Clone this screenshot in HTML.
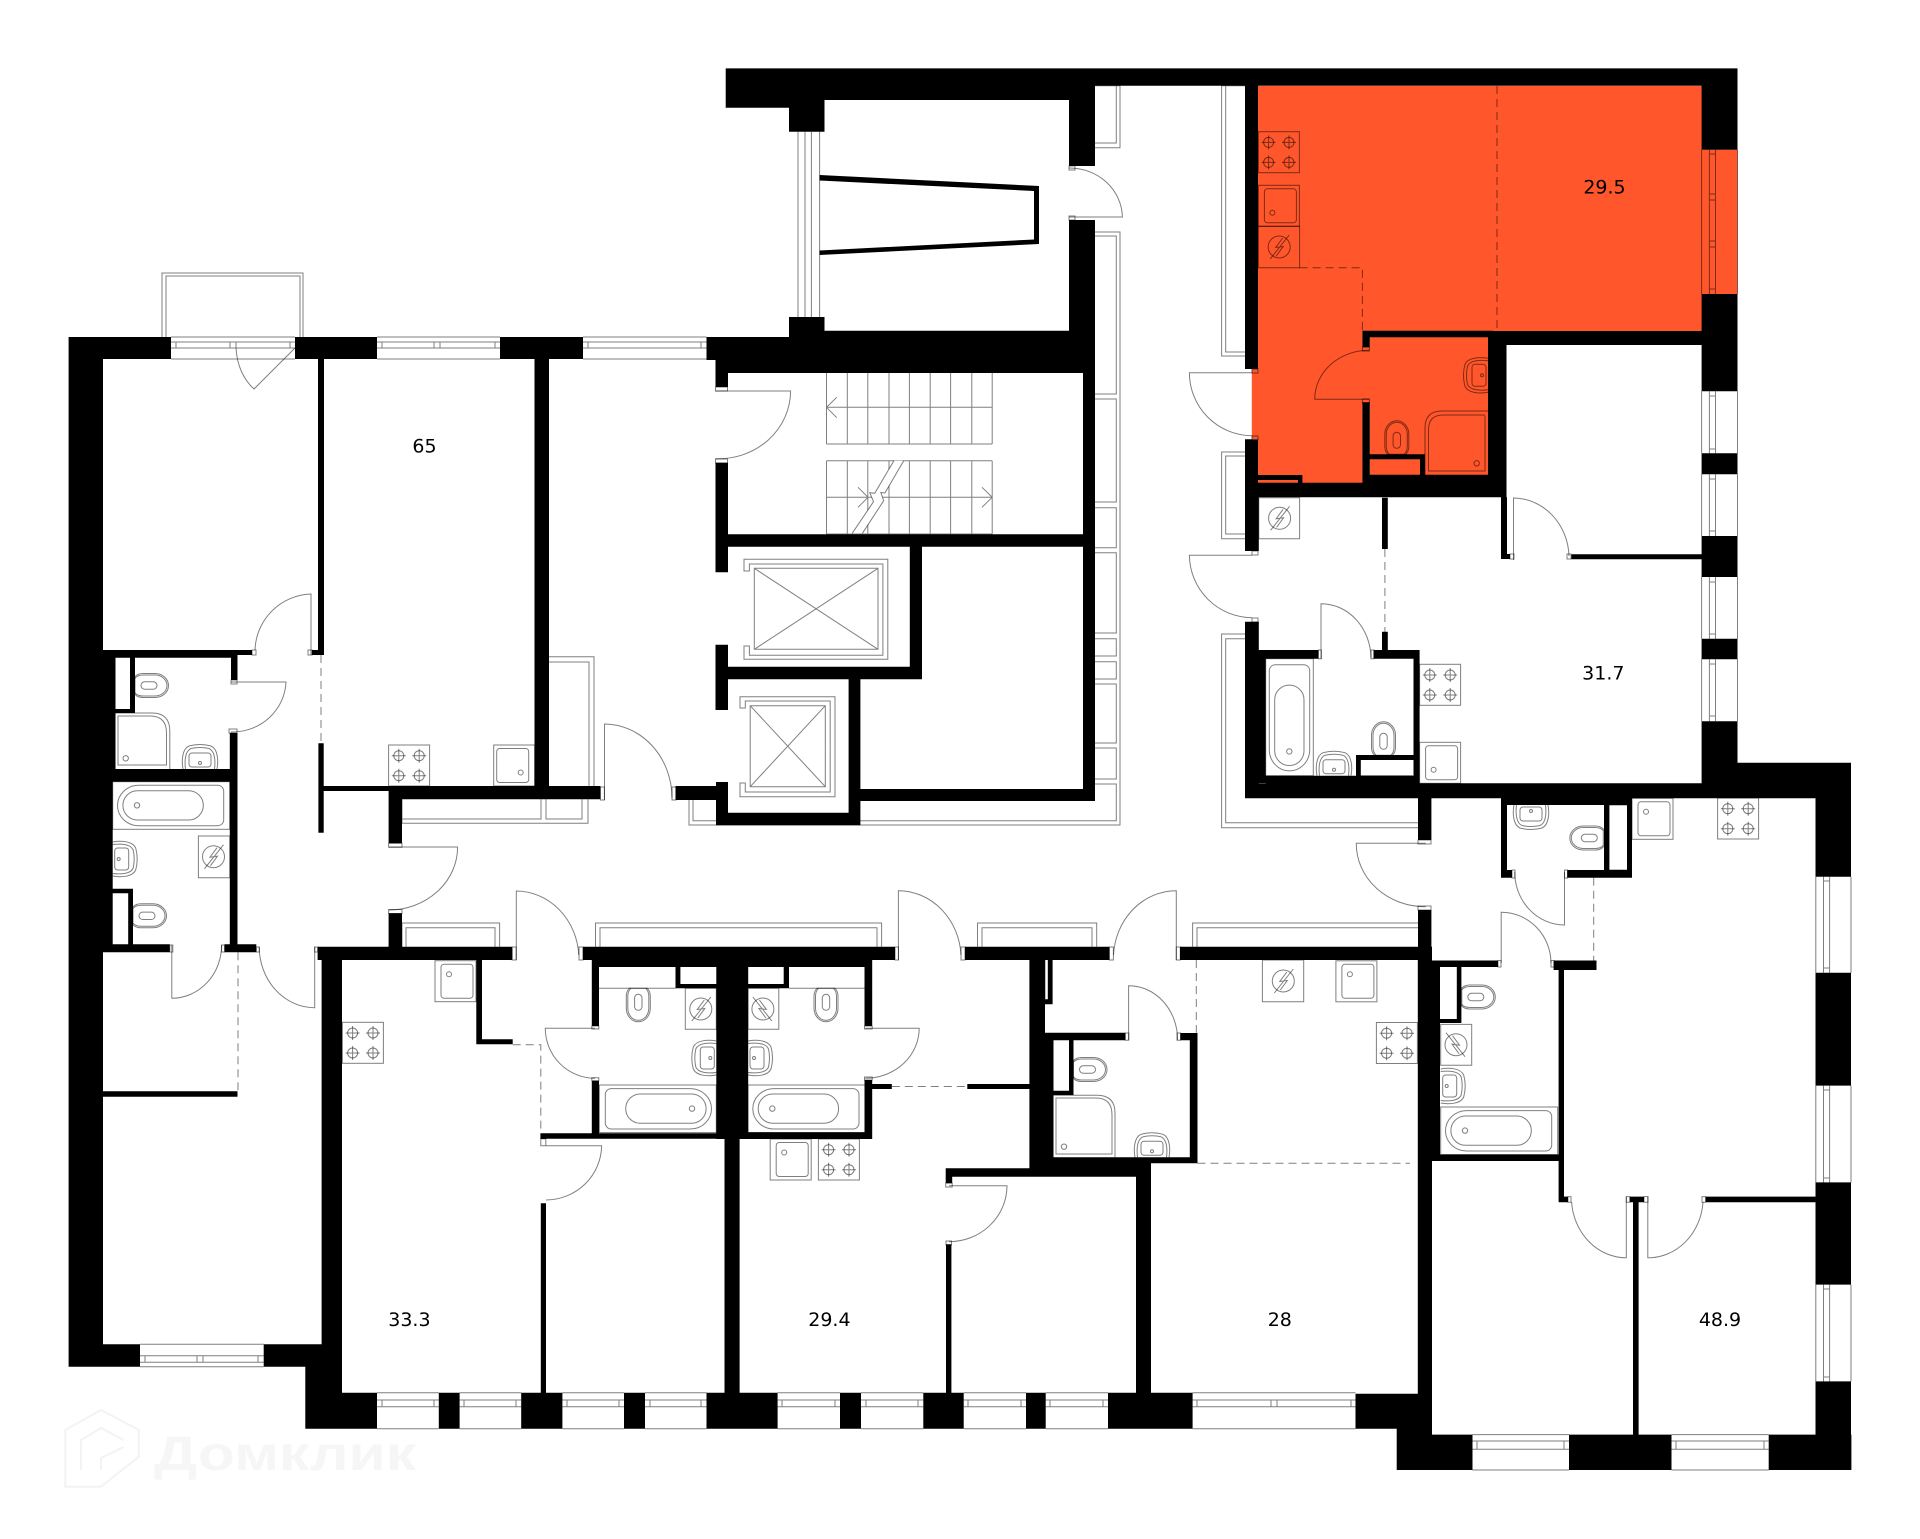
<!DOCTYPE html>
<html><head><meta charset="utf-8"><title>Floor plan</title>
<style>html,body{margin:0;padding:0;background:#fff}svg{display:block}
text{font-family:"DejaVu Sans","Liberation Sans",sans-serif;font-size:19px;fill:#000;text-anchor:middle}</style></head>
<body>
<svg xmlns="http://www.w3.org/2000/svg" width="1920" height="1539" viewBox="0 0 1920 1539">
<defs>
<g id="b"><circle r="5"/><path d="M-7 0H7M0-7V7"/></g>
<g id="stove"><rect width="41" height="41"/><use href="#b" x="10.2" y="10.7"/><use href="#b" x="30.6" y="10.7"/><use href="#b" x="10.2" y="30.7"/><use href="#b" x="30.6" y="30.7"/></g>
<g id="tray"><rect width="41" height="41"/><rect x="6" y="3.5" width="32" height="34" rx="3"/><circle cx="14" cy="27.5" r="2.5"/></g>
<g id="bol"><circle r="11"/><path d="M-9 12L10-12M3.5-9L-3.5 0.5L4-0.5L-3 9"/></g>
<g id="toilet"><path d="M-9 0Q-12-3-12-8V-20A12 13.5 0 0 1 12-20V-8Q12-3 9 0Z"/><path d="M-7.5 0Q-10.5-3-10.5-8V-20A10.5 12 0 0 1 10.5-20V-8Q10.5-3 7.5 0"/><rect x="-3.7" y="-22" width="7.4" height="16" rx="3.7"/></g>
<g id="basin"><path d="M-17 0C-18.5-8-18-20-11-23Q0-26 11-23C18-20 18.5-8 17 0"/><path d="M-14.5 0C-15.5-8-15-18-9-20.5Q0-22.5 9-20.5C15-18 15.5-8 14.5 0"/><rect x="-11" y="-16" width="22" height="14" rx="3"/><circle cy="-6" r="1.5"/></g>
<g id="tub"><rect width="117" height="47.6"/><path d="M26 3.6H105A6 6 0 0 1 111 9.6V38A6 6 0 0 1 105 44H26A21 20 0 0 1 26 3.6Z"/><rect x="10.2" y="9" width="80.4" height="29.3" rx="14.6"/><circle cx="24.3" cy="23.6" r="2.7"/></g>
</defs>

<!-- orange unit -->
<g fill="#ff562b">
<rect x="1258" y="86" width="444" height="245"/><rect x="1258" y="331" width="104.4" height="152"/>
<rect x="1251.8" y="369" width="8" height="70"/><rect x="1362" y="347" width="8" height="56"/>
<rect x="1369.8" y="337" width="118.2" height="138"/><rect x="1701.6" y="149.7" width="35.9" height="144.3"/>
</g>

<!-- watermark -->
<g fill="none" stroke="#f3f3f3" stroke-width="2" stroke-linejoin="round">
<path d="M65.3 1486.7V1430L101 1410L138.8 1430V1456.7L101 1486.7Z"/>
<path d="M81 1470V1440L101 1428L123.7 1440M101 1470V1458L123.7 1447"/>
</g>
<text x="285" y="1470" style="font-family:'Liberation Sans',sans-serif;font-size:48px;font-weight:700;fill:#f6f6f6" textLength="262" lengthAdjust="spacingAndGlyphs">Домклик</text>

<!-- walls -->
<path fill="#000" d="
M68.6 337H103V1366.7H68.6Z M68.6 337H171V359H68.6Z M295 337H377V359H295Z M500 337H583V359H500Z
M318 359H324V655H318Z M312 650H324V655H312Z M534.5 359H549V799H534.5Z
M103 650H237.5V657.7H103Z M237 650H252V655H237Z M103 650H115.5V769H103Z M231 655H237.5V680H231Z
M130 657H135V713H130Z M115 709H135V713H115Z M103 769H237.5V781.7H103Z M103 781H112.7V952H103Z
M229.8 733H237.5V952H229.8Z M103 944.3H169.8V952.3H103Z M224.5 944.3H256.3V952.3H224.5Z
M128.2 888.7H133V944.3H128.2Z M112.7 888.7H133V893.3H112.7Z M103 1091.3H237.5V1096.7H103Z
M68.6 1344.3H140V1366.7H68.6Z M263.7 1344.3H342V1366.7H263.7Z
M318.4 743.3H323.7V832.7H318.4Z M323.7 786H388.6V791H323.7Z M388.6 786H600.4V799.3H388.6Z
M388.6 799H402V843.3H388.6Z M388.6 913.3H402V946.7H388.6Z M317.6 946.7H512.2V960H317.6Z
M321.6 960H342V1392.7H321.6Z M305.3 1366H342V1428.7H305.3Z M342 1392.7H377V1428.7H342Z
M438.8 1392.7H459.6V1428.7H438.8Z M521.2 1392.7H562.4V1428.7H521.2Z M624 1392.7H645V1428.7H624Z
M706.5 1392.7H777.6V1428.7H706.5Z M840 1392.7H861V1428.7H840Z M923.3 1392.7H963.7V1428.7H923.3Z
M1026 1392.7H1045.7V1428.7H1026Z M1108 1392.7H1192.6V1428.7H1108Z M1355.5 1393.7H1417.8V1428.7H1355.5Z
M1396.7 1393.7H1432V1470H1396.7Z M1396.7 1434.6H1472.5V1470H1396.7Z
M1417.8 946.7H1432V1435H1417.8Z M1432 960.5H1440V1161H1432Z
M582.9 946.7H895V960H582.9Z M965 946.7H1109.4V960H965Z M1180 946.7H1418V960H1180Z
M591.8 960H872.2V967H591.8Z M591.8 960H599V1026H591.8Z M591.8 1080.7H599V1133.3H591.8Z
M540.4 1133.3H748V1138.7H540.4Z M748 1132.3H872.2V1139H748Z M716.3 960H748.2V1139H716.3Z M724.5 1139H739.6V1393H724.5Z
M675.5 967H680.4V988.3H675.5Z M676 984H716.3V988.3H676Z M748 984H789V988.3H748Z M783.7 967H789V988.3H783.7Z
M864.5 960H872.2V1026H864.5Z M864.5 1080H872.2V1138.3H864.5Z M872 1084H891.8V1089H872Z M967.3 1084H1029.4V1089H967.3Z
M476.3 960H482V1044.3H476.3Z M476.3 1039.3H512.7V1044.3H476.3Z M540.4 1133.3H546V1139H540.4Z M540.8 1203.3H546V1392.7H540.8Z
M1029.4 960H1045V1176.7H1029.4Z M1045 1157.3H1197.5V1163.3H1045Z M1029.4 1163.3H1151V1176.7H1029.4Z
M945.7 1168.3H1029.4V1176.7H945.7Z M945.7 1176.7H952.2V1183.3H945.7Z M946 1244.3H951.4V1392.7H946Z M1136 1176.7H1151V1392.7H1136Z
M1045 1032.7H1125.3V1040.3H1045Z M1180.4 1033H1197.5V1040.3H1180.4Z M1189.8 1033H1197.5V1163.3H1189.8Z
M1069 1040H1073.5V1095H1069Z M1045 1090.7H1073.5V1095H1045Z M1047.8 960H1052.6V1004.3H1047.8Z M1045 999.3H1052.6V1004.3H1045Z M1045 1040H1053.5V1157.3H1045Z
M1432 960.5H1498V967H1432Z M1553.6 960.5H1596.5V970H1553.6Z M1558.6 967H1564V1202H1558.6Z M1440 1154.5H1558.6V1161H1440Z
M1456.8 964H1461.4V1023H1456.8Z M1440 1019H1461.4V1023H1440Z M1559 1196.6H1568V1202.3H1559Z
M1633 1196.6H1638.6V1434.6H1633Z M1629.8 1196.6H1644V1202.3H1629.8Z M1705.6 1196.6H1815.8V1202.3H1705.6Z
M1569 1434.6H1671.5V1470H1569Z M1768.7 1434.6H1851.4V1470H1768.7Z
M1815.5 762.7H1851V876.7H1815.5Z M1815.5 972.7H1851V1085.6H1815.5Z M1815.5 1182.4H1851V1284.6H1815.5Z M1815.5 1381.4H1851V1470H1815.5Z
M1245 783.3H1815.5V798.3H1245Z M1701.6 721.3H1737.5V783.3H1701.6Z M1737 762.7H1851V798.3H1737Z
M1245 85.7H1258V369H1245Z M1245 439.3H1258V497H1245Z M1245 482.7H1506.5V497.3H1245Z
M1245 497H1258.8V551H1245Z M1245 621.7H1258.8V798.3H1245Z M1258.8 650H1318.4V658.7H1258.8Z M1373.5 650H1419.6V658.7H1373.5Z
M1258.8 650H1265.7V783H1258.8Z M1382 631.7H1387.8V650H1382Z M1382 497.7H1387.8V549H1382Z M1413.5 650H1419.6V783.3H1413.5Z
M1356 755H1413.5V760H1356Z M1356 755H1360.8V775.7H1356Z M1265.7 775.7H1419.6V783.3H1265.7Z
M1258 475H1302.4V480H1258Z M1298 480H1302.4V483H1298Z
M1362.4 330.7H1493V337.3H1362.4Z M1362.4 337H1369.8V347.3H1362.4Z M1362.4 402.3H1369.8V483H1362.4Z
M1369.8 454.3H1425V459.3H1369.8Z M1420 454.3H1425V475H1420Z M1369.8 474.7H1488V483H1369.8Z M1488 331H1506.5V497.3H1488Z M1493 331H1702V345H1493Z
M1701.6 68.4H1737.5V149.7H1701.6Z M1701.6 294H1737.5V391.3H1701.6Z M1701.6 453.3H1737.5V474.3H1701.6Z M1701.6 536H1737.5V577H1701.6Z M1701.6 638.7H1737.5V659.3H1701.6Z
M1571.4 554.3H1701.6V559.3H1571.4Z M1501 497.3H1507V559H1501Z M1501 554H1510V559H1501Z
M725.7 68.4H1737.5V85.7H725.7Z M725.7 85.7H1095V100H725.7Z M725.7 100H789V107.7H725.7Z M789 100H824.5V131.7H789Z
M1069 85.7H1095V166H1069Z M1069 220H1095V373H1069Z M789 317H824.5V373H789Z M824.5 330.7H1095V373H824.5Z M706.5 337H789V360H706.5Z M715.5 360H1095V373H715.5Z
M715.5 373H728V387H715.5Z M715.5 462.7H728V572.3H715.5Z M728 534.3H1095V546.7H728Z M1083 373H1095V801H1083Z M909.8 546.7H922V679.3H909.8Z
M715.5 644.7H728V710H715.5Z M728 666.7H922V679.3H728Z M848.6 679H860.4V825.3H848.6Z M860 789H1095V801H860Z M716 782H728V825.3H716Z M716 812.7H860.4V825.3H716Z M675.5 786H716V800H675.5Z
M1501 798H1507V877.7H1501Z M1501 870H1512V877.7H1501Z M1604 798H1609.4V870H1604Z M1627 798H1632V877.7H1627Z M1567.3 870H1632V877.7H1567.3Z M1501 798H1632V805H1501Z
M1418 798H1431.4V840H1418Z M1418 910H1431.4V946.7H1418Z
"/>
<!-- trapezoid shaft -->
<path fill="#000" fill-rule="evenodd" d="M819.6 175L1039 186V244L819.6 255V250.5L1034 239.5V191L819.6 180.5Z"/>

<!-- hairlines -->
<g fill="none" stroke="#000" stroke-opacity=".5" stroke-width="1">
<!-- windows horizontal -->
<path d="M171 337H295M171 359H295M171 342H295M171 348H295M176 342V348M230 342V348M236 342V348M290 342V348
M377 337H500M377 359H500M377 342H500M377 348H500M382 342V348M434 342V348M440 342V348M495 342V348
M583 337H706.5M583 359H706.5M583 342H706.5M583 348H706.5M588 342V348M701 342V348
M140 1344.3H263.7M140 1366.7H263.7M140 1355.7H263.7M140 1362.3H263.7M145 1355.7V1362.3M197 1355.7V1362.3M203 1355.7V1362.3M258 1355.7V1362.3
M377 1392.7H438.8M377 1428.7H438.8M377 1400H438.8M377 1406.7H438.8M382 1400V1406.7M434 1400V1406.7
M459.6 1392.7H521.2M459.6 1428.7H521.2M459.6 1400H521.2M459.6 1406.7H521.2M464 1400V1406.7M516 1400V1406.7
M562.4 1392.7H624M562.4 1428.7H624M562.4 1400H624M562.4 1406.7H624M567 1400V1406.7M619 1400V1406.7
M645 1392.7H706.5M645 1428.7H706.5M645 1400H706.5M645 1406.7H706.5M650 1400V1406.7M701 1400V1406.7
M777.6 1392.7H840M777.6 1428.7H840M777.6 1400H840M777.6 1406.7H840M782 1400V1406.7M835 1400V1406.7
M861 1392.7H923.3M861 1428.7H923.3M861 1400H923.3M861 1406.7H923.3M866 1400V1406.7M918 1400V1406.7
M963.7 1392.7H1026M963.7 1428.7H1026M963.7 1400H1026M963.7 1406.7H1026M968 1400V1406.7M1021 1400V1406.7
M1045.7 1392.7H1108M1045.7 1428.7H1108M1045.7 1400H1108M1045.7 1406.7H1108M1050 1400V1406.7M1103 1400V1406.7
M1192.6 1392.7H1355.5M1192.6 1428.7H1355.5M1192.6 1400H1355.5M1192.6 1406.7H1355.5M1197 1400V1406.7M1271 1400V1406.7M1277 1400V1406.7M1351 1400V1406.7
M1472.5 1434.6H1569M1472.5 1470H1569M1472.5 1441H1569M1472.5 1449.2H1569M1477 1441V1449.2M1564 1441V1449.2
M1671.5 1434.6H1768.7M1671.5 1470H1768.7M1671.5 1441H1768.7M1671.5 1449.2H1768.7M1676 1441V1449.2M1764 1441V1449.2"/>
<!-- windows vertical -->
<path d="M1701.6 149.7V294M1737.5 149.7V294M1709.4 149.7V294M1715.5 149.7V294M1709.4 154H1715.5M1709.4 194H1715.5M1709.4 200H1715.5M1709.4 241H1715.5M1709.4 247H1715.5M1709.4 289H1715.5
M1701.6 391.3V453.3M1737.5 391.3V453.3M1709.4 391.3V453.3M1715.5 391.3V453.3M1709.4 396H1715.5M1709.4 449H1715.5
M1701.6 474.3V536M1737.5 474.3V536M1709.4 474.3V536M1715.5 474.3V536M1709.4 479H1715.5M1709.4 531H1715.5
M1701.6 577V638.7M1737.5 577V638.7M1709.4 577V638.7M1715.5 577V638.7M1709.4 582H1715.5M1709.4 634H1715.5
M1701.6 659.3V721.3M1737.5 659.3V721.3M1709.4 659.3V721.3M1715.5 659.3V721.3M1709.4 664H1715.5M1709.4 716H1715.5
M1815.8 876.7V972.7M1851 876.7V972.7M1823.5 876.7V972.7M1829.6 876.7V972.7M1823.5 881H1829.6M1823.5 968H1829.6
M1815.8 1085.6V1182.4M1851 1085.6V1182.4M1823.5 1085.6V1182.4M1829.6 1085.6V1182.4M1823.5 1090H1829.6M1823.5 1178H1829.6
M1815.8 1284.6V1381.4M1851 1284.6V1381.4M1823.5 1284.6V1381.4M1829.6 1284.6V1381.4M1823.5 1289H1829.6M1823.5 1377H1829.6
M798 131.7V317M805 131.7V317M811.4 131.7V317M819.6 131.7V317"/>
<!-- balconies -->
<path d="M162 337V273H303V337M166 337V276H300V337
M549 656.7H594V787M549 662H589V787M402 799.3V823.3H588V799.3M402 819H541V799.3M546 799.3V819H582V799.3
M1095 85.7H1120V147.7H1095M1095 85.7H1116.3V143H1095
M1095 232H1120V825H689V800M1095 236H1116.3V394H1095M1095 399H1116.3V502H1095M1095 507.7H1116.3V547.7H1095M1095 552.7H1116.3V633H1095M1095 638.7H1116.3V656H1095M1095 661.7H1116.3V679H1095M1095 684H1116.3V743H1095M1095 748H1116.3V779H1095M1095 784H1116.3V820.7H693V800
M1245 85.7H1221.6V356H1245M1245 85.7H1225.7V352H1245
M1245 452H1221.6V538.7H1245M1245 456H1225.7V534H1245
M1245 634H1221.6V827.7H1418M1245 638.7H1225.7V822.7H1418
M402 946.7V923H499.6V946.7M406 946.7V927.7H495V946.7
M595.5 946.7V923H881.6V946.7M600 946.7V927.7H877V946.7
M977.5 946.7V923H1096.7V946.7M982 946.7V927.7H1092V946.7
M1192.6 946.7V923H1418M1197 946.7V927.7H1418"/>
<!-- doors -->
<path d="M311 655V594A58 58 0 0 0 255 650
M231 682H286A54 52 0 0 1 231 732
M715.5 391H790.6A72 68 0 0 1 715.5 458.7
M1069 217H1122.4A53 50 0 0 0 1069 168
M1252 372.7H1189.4A63 63 0 0 0 1252 435.7
M1252 555.3H1189.4A63 63 0 0 0 1252 617.7
M1369 399.3H1314.7A54 49 0 0 1 1369 350.3
M1513.5 560V498A56 60 0 0 1 1569 556
M1321 658.7V603.7A50 55 0 0 1 1371 658
M1425.7 843.3H1356.3A69 63 0 0 0 1425.7 906.7
M1564.5 871.7V925A50 53 0 0 1 1514.7 871.7
M1501.2 963V912.2A50 51 0 0 1 1551 963
M1626.3 1196.6V1257.8A55 60 0 0 1 1571.6 1202
M1647.8 1196.6V1257.8A55 60 0 0 0 1703 1202
M1128.6 1040V985.7A49 54 0 0 1 1177.6 1040
M898.4 960V890.7A63 68 0 0 1 961 955
M1176.3 960V890.7A63 68 0 0 0 1113.5 955
M516.3 960V891A63 68 0 0 1 578.8 955
M546 1145.7H601.6A56 55 0 0 1 546 1200
M595 1028.3H545.3A50 50 0 0 0 595 1078.3
M865.3 1028.3H919.2A54 50 0 0 1 865.3 1078.3
M949 1185.7H1007A58 56 0 0 1 949 1241.7
M389 847H457.6A69 63 0 0 1 389 910
M604.5 800V724A68 74 0 0 1 672 797.7
M171.8 945V998.3A50 53 0 0 0 221.6 945
M314.7 946.7V1007.7A55.5 61 0 0 1 259.2 946.7
M236 348C237 366 244 380 254 389L295 348"/>
<!-- jambs -->
<path d="M252 650h4v5h-4zM308 650h4v5h-4zM231 680h6v4h-6zM229 729h8v4h-8zM715.5 387h12v4h-12zM715.5 459h12v4h-12zM1069 166h6v4h-6zM1069 216h6v4h-6zM1252 369h6v4h-6zM1252 436h6v4h-6zM1252 551h6v4h-6zM1252 618h6v4h-6zM1362.4 347h7v4h-7zM1362.4 399h7v4h-7zM1510 554h4v5h-4zM1567 554h4v5h-4zM1318.4 650h3v8.7h-3zM1371 650h3v8.7h-3zM1418 840h13v4h-13zM1418 906h13v4h-13zM1512 870h3v8h-3zM1564.5 870h3v8h-3zM1498 960.5h3v6.5h-3zM1551 960.5h3v6.5h-3zM1568 1196.6h3v5.7h-3zM1626.3 1196.6h3.5v5.7h-3.5zM1644 1196.6h4v5.7h-4zM1702 1196.6h3.6v5.7h-3.6zM1125.3 1033h3.5v7.3h-3.5zM1177 1033h3.5v7.3h-3.5zM895 947h3.5v13h-3.5zM961 947h4v13h-4zM1109.4 947h4v13h-4zM1176.3 947h4v13h-4zM512.2 947h4v13h-4zM579 947h4v13h-4zM540.8 1138.7h5v7h-5zM591.8 1026h7v3h-7zM591.8 1077.7h7v3h-7zM864.5 1026h7.7v3h-7.7zM864.5 1077h7.7v3h-7.7zM945.7 1183h6.5v4h-6.5zM946 1241h5.5v4h-5.5zM388.6 843.3h13.4v4h-13.4zM388.6 909.5h13.4v4h-13.4zM600.4 787h4v13h-4zM672 787h4v13h-4zM169.8 945h3v7h-3zM221.6 945h3v7h-3zM256.3 947h3v5h-3zM314.7 947h3v5h-3z"/>
<!-- elevators -->
<path d="M749.4 571H744V559.3H887.8V659.3H744V646H749.4V655.3H882.9V564H749.4ZM754.3 568.3H878V649.3H754.3ZM754.3 568.3L878 649.3M878 568.3L754.3 649.3
M745.3 708H740V696.7H835V796.7H740V783H745.3V792H830.2V701H745.3ZM750.2 705.7H825.3V786.7H750.2ZM750.2 705.7L825.3 786.7M825.3 705.7L750.2 786.7"/>
<!-- stairs -->
<path d="M826.5 373V444M847.3 373V444M867.8 373V444M889 373V444M909.4 373V444M930.2 373V444M950.6 373V444M971.8 373V444M992.2 373V444M826.5 407.3H992.2M836.7 397.3L826.5 407.3L836.7 417.7M826.5 444H992.2
M826.5 460.7H992.2M826.5 534H992.2M826.5 460.7V534M847.3 460.7V534M867.8 460.7V534M889 460.7V534M909.4 460.7V534M930.2 460.7V534M950.6 460.7V534M971.8 460.7V534M992.2 460.7V534M826.5 497.3H992.2
M982 487.3L992.2 497.3L982 507.3M858 487.3L868 497.3L858 507.3"/>
<path fill="#fff" stroke="none" d="M893.9 460.7L874.7 493.3L869.8 492.7L873.5 501.7L852.2 533.3H862.4L883.7 500.7L880.8 492.5L884.9 493L903.7 460.7Z"/>
<path d="M893.9 460.7L874.7 493.3L869.8 492.7L873.5 501.7L852.2 533.3M903.7 460.7L884.9 493L880.8 492.5L883.7 500.7L862.4 533.3"/>
<!-- kitchen & bathroom fixtures -->
<use href="#stove" x="1258.4" y="131.7"/><use href="#stove" x="1419.6" y="664.3"/><use href="#stove" x="388.6" y="745"/><use href="#stove" x="342.4" y="1022.3"/><use href="#stove" x="818.4" y="1139"/><use href="#stove" x="1376.4" y="1022.5"/><use href="#stove" x="1717.6" y="798"/>
<use href="#tray" transform="translate(1258.4 185.3)"/><use href="#tray" transform="translate(1419.6 742.3)"/><use href="#tray" transform="translate(534.7 745) scale(-1 1)"/><use href="#tray" transform="translate(435 1001.7) scale(1 -1)"/><use href="#tray" transform="translate(770.2 1180) scale(1 -1)"/><use href="#tray" transform="translate(1335.9 1001.8) scale(1 -1)"/><use href="#tray" transform="translate(1632 839.3) scale(1 -1)"/>
<path d="M1258.4 226.3h41.2v41.4h-41.2zM1258.8 497.7h40.8v41h-40.8zM198.4 836h31.4v41.7h-31.4zM685.3 988.3h31v41h-31zM748 988.3h30.8v41h-30.8zM1262.4 960h41.3v41.7h-41.3zM1440.7 1024.4h31v40.9h-31z"/>
<use href="#bol" x="1279.2" y="247"/><use href="#bol" x="1279.6" y="518.3"/><use href="#bol" x="213.5" y="856.7"/><use href="#bol" x="700.8" y="1009"/><use href="#bol" transform="translate(762.9 1009) scale(-1 1)"/><use href="#bol" x="1283.3" y="981"/><use href="#bol" transform="translate(1456 1044.7) scale(-1 1)"/>
<use href="#toilet" transform="translate(1396.8 454.3)"/><use href="#toilet" transform="translate(1383.5 755.3)"/><use href="#toilet" transform="translate(135 685.5) rotate(90)"/><use href="#toilet" transform="translate(133 915.8) rotate(90)"/><use href="#toilet" transform="translate(1603.3 838) rotate(-90)"/><use href="#toilet" transform="translate(638.3 988.3) rotate(180)"/><use href="#toilet" transform="translate(826 988.3) rotate(180)"/><use href="#toilet" transform="translate(1073.5 1069.5) rotate(90)"/><use href="#toilet" transform="translate(1461.8 997) rotate(90)"/>
<use href="#basin" transform="translate(1334 775.7)"/><use href="#basin" transform="translate(1488 375.3) rotate(-90)"/><use href="#basin" transform="translate(200 769)"/><use href="#basin" transform="translate(112.7 859) rotate(90)"/><use href="#basin" transform="translate(1531 805) rotate(180)"/><use href="#basin" transform="translate(716.3 1058) rotate(-90)"/><use href="#basin" transform="translate(748 1058) rotate(90)"/><use href="#basin" transform="translate(1152 1157.3)"/><use href="#basin" transform="translate(1440.7 1086) rotate(90)"/>
<use href="#tub" transform="translate(112.7 781.7)"/><use href="#tub" transform="translate(748 1085)"/><use href="#tub" transform="translate(716.3 1085) scale(-1 1)"/><use href="#tub" transform="translate(1440.7 1107)"/><use href="#tub" transform="translate(1265.7 775.7) rotate(-90)"/>
<!-- showers -->
<path d="M1425 474.7V428Q1425 411 1442 411H1488M1428.5 471V430Q1428.5 415 1443 415H1484Q1485 415 1485 418V471Z"/><circle cx="1476.7" cy="463.3" r="2.7"/>
<path d="M115.5 713H152Q169.8 713 169.8 731V769M118 716H150Q166.5 716 166.5 733V765H118Z"/><circle cx="125.7" cy="758.3" r="2.7"/>
<path d="M1053.5 1095.3H1097Q1115 1095.3 1115 1113V1157.3M1056 1098H1096Q1112 1098 1112 1115V1154H1056Z"/><circle cx="1064" cy="1146.7" r="2.7"/>
<path d="M599 988.3H675.5M789 988.3H864.5M1045 960V1000M1609.4 805H1627M1609.4 870H1627M1360 775.7H1413"/>
</g>

<!-- partition dashes -->
<g fill="none" stroke="#000" stroke-opacity=".5" stroke-width="1" stroke-dasharray="8 5">
<path d="M1497 86V331M1299.6 267.7H1362.4V330.7"/>
<path d="M321 655V743M238 952.3V1091.7M512.7 1044.7H540.8V1133.3M891.8 1086.5H967.3M1196.3 960V1032.7M1197.5 1163.3H1410M1593.7 877.7V960.5M1384.9 549V631.7"/>
</g>

<!-- labels -->
<text x="424.5" y="452.5">65</text>
<text x="1604.5" y="193.7">29.5</text>
<text x="1603.3" y="679.5">31.7</text>
<text x="409.4" y="1326">33.3</text>
<text x="829.4" y="1326">29.4</text>
<text x="1279.8" y="1326">28</text>
<text x="1720" y="1326">48.9</text>
</svg>
</body></html>
